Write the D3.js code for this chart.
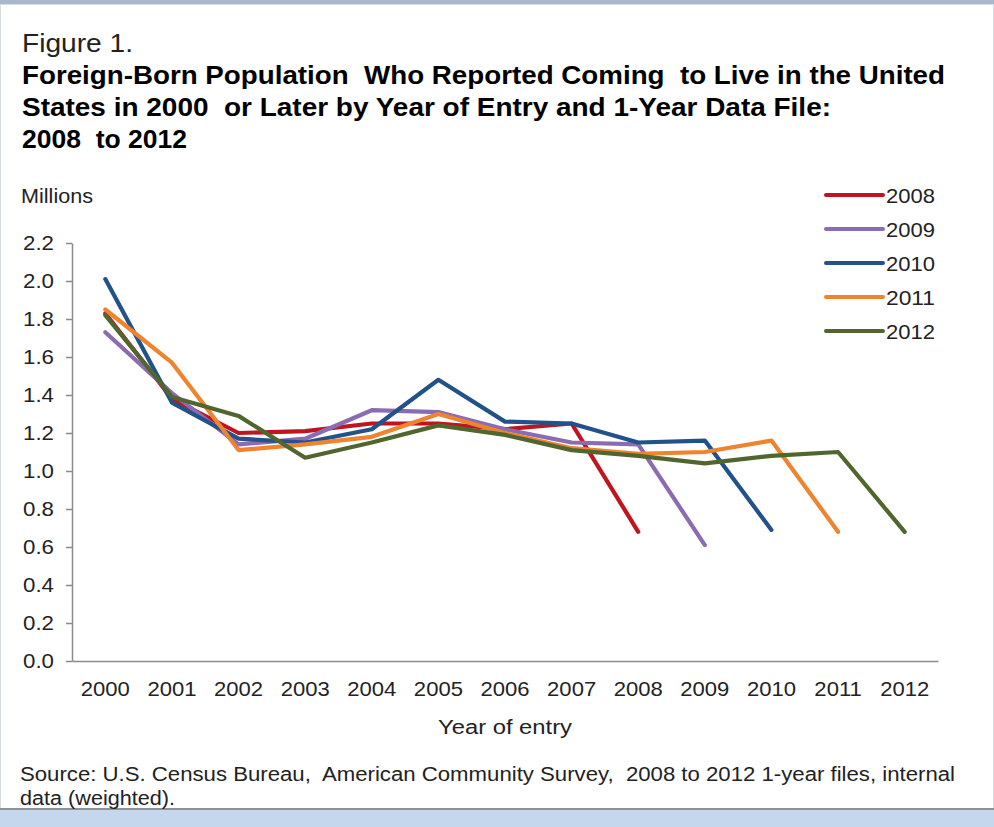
<!DOCTYPE html>
<html>
<head>
<meta charset="utf-8">
<script src="https://cdn.jsdelivr.net/npm/d3@7"></script>
<style>
  html, body { margin: 0; padding: 0; background: #fff; }
  svg { display: block; font-family: "Liberation Sans", Arial, sans-serif; }
  text { white-space: pre; }
</style>
</head>
<body>
<svg id="chart" width="994" height="827"></svg>
<script>
// Year of entry categories
const years = ["2000","2001","2002","2003","2004","2005","2006","2007","2008","2009","2010","2011","2012"];

// Foreign-born population (millions) by year of entry, one series per 1-year data file
const file2008 = [1.83, 1.38, 1.20, 1.21, 1.25, 1.25, 1.22, 1.25, 0.68];
const file2009 = [1.73, 1.41, 1.14, 1.17, 1.32, 1.31, 1.22, 1.15, 1.14, 0.61];
const file2010 = [2.01, 1.36, 1.17, 1.15, 1.22, 1.48, 1.26, 1.25, 1.15, 1.16, 0.69];
const file2011 = [1.85, 1.57, 1.11, 1.14, 1.18, 1.30, 1.20, 1.12, 1.09, 1.10, 1.16, 0.68];
const file2012 = [1.82, 1.39, 1.29, 1.07, 1.15, 1.24, 1.19, 1.11, 1.08, 1.04, 1.08, 1.10, 0.68];

const seriesNames = ["2008", "2009", "2010", "2011", "2012"];
const seriesValues = [file2008, file2009, file2010, file2011, file2012];
const seriesColors = ["#C0151F", "#8B6BB1", "#22528A", "#EE8430", "#50662E"];

const yTicks = [0.0, 0.2, 0.4, 0.6, 0.8, 1.0, 1.2, 1.4, 1.6, 1.8, 2.0, 2.2];

const svg = d3.select("#chart");
const W = 994, H = 827;

// frame bands
svg.append("rect").attr("x", 0).attr("y", 0).attr("width", W).attr("height", 4).attr("fill", "#A7B8CE");
svg.append("rect").attr("x", 0).attr("y", 4).attr("width", W).attr("height", 1).attr("fill", "#D5DEE9");
svg.append("rect").attr("x", 0).attr("y", 808).attr("width", W).attr("height", 2).attr("fill", "#8E9399");
svg.append("rect").attr("x", 0).attr("y", 810).attr("width", W).attr("height", H - 810).attr("fill", "#C5D7EC");
svg.append("rect").attr("x", 0).attr("y", 5).attr("width", 1).attr("height", 803).attr("fill", "#D8DDE3");
svg.append("rect").attr("x", W - 1).attr("y", 5).attr("width", 1).attr("height", 803).attr("fill", "#D8DDE3");

// text helper; optional width sets the run to a fixed length
function label(str, x, y, size, opts = {}) {
  const t = svg.append("text")
    .attr("x", x).attr("y", y)
    .attr("font-size", size)
    .attr("font-weight", opts.weight || "normal")
    .attr("fill", opts.fill || "#111")
    .text(str);
  if (opts.width) {
    t.attr("textLength", opts.width).attr("lengthAdjust", "spacingAndGlyphs");
    if (opts.anchor === "middle") t.attr("x", x - opts.width / 2);
  } else if (opts.anchor) {
    t.attr("text-anchor", opts.anchor);
  }
  return t;
}

// headings
label("Figure 1.", 22, 52, 25, { width: 111, fill: "#222" });
label("Foreign-Born Population  Who Reported Coming  to Live in the United", 22, 84, 25, { weight: "bold", width: 923, fill: "#000" });
label("States in 2000  or Later by Year of Entry and 1-Year Data File:", 22, 116, 25, { weight: "bold", width: 809, fill: "#000" });
label("2008  to 2012", 22, 148, 25, { weight: "bold", width: 165, fill: "#000" });
label("Millions", 21, 203, 20, { width: 72, fill: "#222" });

// scales
const plotLeft = 72, plotRight = 938, plotTop = 243, plotBottom = 661;
const x = d3.scaleBand().domain(years).range([plotLeft, plotRight]);
const y = d3.scaleLinear().domain([0, 2.2]).range([plotBottom, plotTop]);

// y axis
const gy = svg.append("g").attr("transform", `translate(${plotLeft},0)`)
  .call(d3.axisLeft(y).tickValues(yTicks).tickFormat(d3.format(".1f")).tickSize(6).tickSizeOuter(0).tickPadding(12));
gy.select(".domain").attr("stroke", "#8A8A8A").attr("stroke-width", 1.5);
gy.selectAll(".tick line").attr("stroke", "#8A8A8A").attr("stroke-width", 1.5);
gy.selectAll(".tick text").attr("font-size", 21).attr("fill", "#222")
  .attr("font-family", "Liberation Sans, Arial, sans-serif");

// x axis
const gx = svg.append("g").attr("transform", `translate(0,${plotBottom})`)
  .call(d3.axisBottom(x).tickSize(0).tickSizeOuter(0).tickPadding(20));
gx.select(".domain").attr("stroke", "#8A8A8A").attr("stroke-width", 1.5);
gx.selectAll(".tick text").attr("font-size", 21).attr("fill", "#222")
  .attr("font-family", "Liberation Sans, Arial, sans-serif");

// widen axis labels slightly
function stretch(sel, k) {
  sel.each(function () {
    const n = this.getComputedTextLength();
    d3.select(this).attr("textLength", n * k).attr("lengthAdjust", "spacingAndGlyphs");
  });
}
stretch(gy.selectAll(".tick text"), 1.06);
stretch(gx.selectAll(".tick text"), 1.05);

// axis title and source
label("Year of entry", 505, 734, 20, { anchor: "middle", width: 134, fill: "#222" });
label("Source: U.S. Census Bureau,  American Community Survey,  2008 to 2012 1-year files, internal", 20, 781, 19.5, { width: 935, fill: "#222" });
label("data (weighted).", 20, 805, 19.5, { width: 155, fill: "#222" });

// series lines
const line = d3.line()
  .x((d, i) => x(years[i]) + x.bandwidth() / 2)
  .y(d => y(d));

seriesValues.forEach((vals, k) => {
  svg.append("path")
    .datum(vals)
    .attr("d", line)
    .attr("fill", "none")
    .attr("stroke", seriesColors[k])
    .attr("stroke-width", 4.2)
    .attr("stroke-linejoin", "round")
    .attr("stroke-linecap", "round");
});

// legend
const legY = d3.scalePoint().domain(seriesNames).range([195, 331]);
seriesNames.forEach((name, k) => {
  svg.append("line")
    .attr("x1", 826).attr("x2", 883)
    .attr("y1", legY(name)).attr("y2", legY(name))
    .attr("stroke", seriesColors[k]).attr("stroke-width", 4)
    .attr("stroke-linecap", "round");
  label(name, 886, legY(name) + 8, 21, { width: 49, fill: "#222" });
});
</script>
</body>
</html>
